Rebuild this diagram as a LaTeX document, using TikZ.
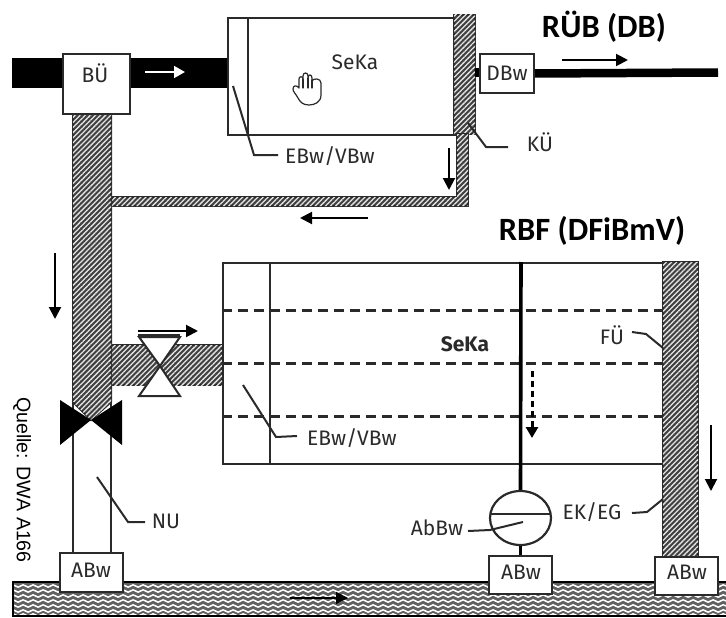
\documentclass[tikz,border=0pt]{standalone}
\usepackage{fontspec}
\setmainfont{Fira Sans}
\newfontfamily\titlefont{Carlito}
\newfontfamily\srcfont{Liberation Sans}
\usetikzlibrary{patterns.meta,arrows.meta,decorations.pathmorphing,shapes.geometric}
\definecolor{ink}{HTML}{2A2A2A}
\tikzset{
 x=1pt,y=-1pt,
 outline/.style={draw=ink,line width=2pt},
 hatched/.style={fill=black!75,postaction={pattern={Lines[angle=45,distance=3.6pt,line width=1.3pt]},pattern color=white!90!black}},
 hatchedframe/.style={hatched,draw=ink,line width=2pt},
 label/.style={font=\fontsize{21}{23}\selectfont,text=ink,inner sep=0pt},
 titlelabel/.style={font=\titlefont\bfseries\fontsize{32.5}{34}\selectfont,text=black,inner sep=0pt},
 boxed/.style={draw=ink,fill=white,line width=2pt,inner sep=0pt,label},
 leader/.style={draw=ink,line width=2pt},
 flow/.style={draw=black,line width=2pt,-{Triangle[length=12pt,width=12pt]}},
}
\begin{document}
\begin{tikzpicture}
\useasboundingbox (0,0) rectangle (726,618);
% channel
\begin{scope}
\clip (13,583) rectangle (726,616);
\fill[black!62] (13,583) rectangle (726,616);
\foreach \yy in {586,591,596,601,606,611,615}{
  \draw[white,line width=1.5pt,decorate,decoration={snake,amplitude=1.2pt,segment length=10pt}] (10,\yy) -- (730,\yy);
}
\end{scope}
\draw[draw=black,line width=2.5pt] (726,582) -- (13,582) -- (13,616) -- (726,616);
\draw[flow,line width=1.4pt] (290,598) -- (348,598);
% top inflow
\fill[black] (12,58) rectangle (228,88);
% top tank
\node[outline,fill=white,minimum width=227pt,minimum height=117pt,inner sep=0pt,anchor=north west] (topTank) at (227,17) {};
\draw[ink,line width=2pt] (248,17) -- (248,134);
\draw[hatchedframe] (454,15) rectangle (475,134);
\draw[hatchedframe] (457,134) -- (468,134) -- (468,206) -- (112,206) -- (112,197) -- (457,197) -- cycle;
% bypass
\draw[hatchedframe] (111,345) rectangle (222,385);
\draw[hatchedframe] (73,113) -- (111,113) -- (111,402) -- (91,420) -- (73,402) -- cycle;
\draw[ink,line width=2.2pt] (73,402) -- (73,554) (111,402) -- (111,554);
\node[boxed,minimum width=67pt,minimum height=60pt,anchor=north west] (bue) at (62,53) {};
\node[label] at (95,73) {BÜ};
% valves
\node[draw=none,inner sep=0pt,minimum size=0pt] (valveA) at (160,366) {};
\draw[draw=ink,fill=white,line width=2pt] (139,337) -- (180,337) -- (160,366) -- (180,396) -- (139,396) -- (160,366) -- cycle;
\node[inner sep=0pt,minimum size=0pt] (valveB) at (91,420) {};
\fill[black] (60,400) -- (91,420) -- (60,445) -- cycle (122,400) -- (91,420) -- (122,445) -- cycle;
% lower tank
\node[outline,fill=white,minimum width=441pt,minimum height=201pt,inner sep=0pt,anchor=north west] (lowTank) at (222,262) {};
\draw[ink,line width=2pt] (270,262) -- (270,463);
\foreach \yy in {310,363,416}{\draw[ink,line width=3pt,dash pattern=on 10pt off 6pt] (222,\yy) -- (663,\yy);}
\draw[hatchedframe] (663,262) rectangle (698,557);
% ABw boxes and outlet
\node[draw=ink,fill=white,line width=2.2pt,ellipse,minimum width=61pt,minimum height=54pt,inner sep=0pt] (abbw) at (520.5,518) {};
\coordinate (tankTop) at (521,262);
\draw[black,line width=3.6pt] (tankTop) -- (abbw.north);
\draw[ink,line width=2.2pt] (491,514) -- (550,514);
\node[boxed,minimum width=63pt,minimum height=38pt] (abwM) at (520.5,575) {};
\node[label] at (521,572) {ABw};
\draw[black,line width=3pt] (abbw.south) -- (abwM.north);
\node[boxed,minimum width=63pt,minimum height=38pt] (abwR) at (686.5,576) {};
\node[label] at (687,572) {ABw};
\node[boxed,minimum width=63pt,minimum height=39pt] (abwL) at (91.5,572.5) {};
\node[label] at (91,570) {ABw};
% DBw
\node[boxed,minimum width=54pt,minimum height=39pt,anchor=north west] (dbw) at (479,53) {DBw};
\coordinate (dbwEnd) at (718,72.5);
\draw[black,line width=8.5pt] (dbw.east) -- (dbwEnd);
\fill[black] (475,68) rectangle (479,77);
% hand
\begin{scope}[ink,line width=1.2pt,line cap=round,line join=round]
\draw[fill=white] (299,88) -- (299,79) .. controls (299,76) and (303,76) .. (303,79) -- (303,76)
 .. controls (303,72) and (308,72) .. (308,76) -- (308,78) .. controls (308,74) and (312,74) .. (312,78) -- (312,81)
 .. controls (313,78) and (321,78) .. (321,83) -- (321,95) .. controls (321,102) and (315,105) .. (309,105)
 .. controls (303,105) and (300,102) .. (298,98) .. controls (296,94) and (293,92) .. (293,89)
 .. controls (293,85) and (297,85) .. (299,88) -- cycle;
\draw (303,79) -- (303,88) (308,78) -- (308,88) (312,80) -- (312,88);
\end{scope}
% arrows
\draw[draw=white,line width=1.8pt,-{Triangle[length=11pt,width=12pt]}] (145,72) -- (185,72);
\draw[flow] (562,60) -- (628,60);
\draw[flow] (449,148) -- (449,190);
\draw[flow] (368,218) -- (300,218);
\draw[flow] (55,253) -- (55,319);
\draw[flow] (711,425) -- (711,491);
\draw[flow] (138,331) -- (198,331);
\draw[ink,line width=1.6pt] (138,335) -- (180,335);
\draw[draw=black,line width=3pt,dash pattern=on 6pt off 4pt,-{Triangle[length=11pt,width=12pt]}] (532,371) -- (532,438);
% labels
\node[label] (l1) at (355,62) {SeKa};
\node[label,anchor=west] (ebTop) at (285,156) {EBw/VBw};
\node[label] (kue) at (540,142) {KÜ};
\node[titlelabel] (ruebT) at (604,27) {RÜB (DB)};
\node[titlelabel] (rbfT) at (592,231) {RBF (DFiBmV)};
\node[label,font=\bfseries\fontsize{21}{23}\selectfont] (l2) at (465,344) {SeKa};
\node[label] (fue) at (612,335) {FÜ};
\node[label,anchor=west] (ebLow) at (307,438) {EBw/VBw};
\node[label] (nu) at (166,521) {NU};
\node[label] (abl) at (437,528) {AbBw};
\node[label] (ekeg) at (592,512) {EK/EG};
\node[font=\srcfont\fontsize{19.6}{22}\selectfont,inner sep=0pt,rotate=-90] (src) at (22,480) {Quelle: DWA A166};
% leaders
\coordinate (c1) at (233,86); \coordinate (c2) at (468,123); \coordinate (c3) at (663,348);
\coordinate (c4) at (243,385); \coordinate (c5) at (97,477); \coordinate (c6) at (523,522); \coordinate (c7) at (663,499);
\draw[leader] (c1) -- (254,155) -- (278,155);
\draw[leader] (c2) -- (486,147) -- (508,147);
\draw[leader] (c3) -- (646,334) -- (632,332);
\draw[leader] (c4) -- (276,437) -- (297,436);
\draw[leader] (c5) -- (128,522) -- (145,522);
\draw[leader] (c6) -- (490,530) -- (468,531);
\draw[leader] (c7) -- (647,512) -- (632,513);
\end{tikzpicture}
\end{document}
